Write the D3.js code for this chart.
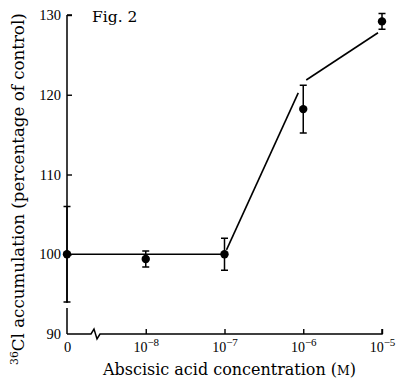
<!DOCTYPE html>
<html><head><meta charset="utf-8">
<script src="https://cdn.jsdelivr.net/npm/d3@7"></script>
<style>html,body{margin:0;padding:0;background:#fff;}svg{display:block;}</style>
</head><body>
<script>
const categories = ["0", "1e-8", "1e-7", "1e-6", "1e-5"];
const tickExponents = [null, "−8", "−7", "−6", "−5"];
const means = [100, 99.4, 100, 118.2, 129.2];
const errors = [6, 1, 2, 3, 1];
const fitCategories = ["0", "1e-7", "1e-6", "1e-5"];
const fitValues = [100, 100, 121.6, 128.1];
const yTicks = [90, 100, 110, 120, 130];
const figLabel = "Fig. 2";
const xTitle = "Abscisic acid concentration";
const yTitle = "Cl accumulation (percentage of control)";

const W = 400, H = 382;
const svg = d3.select("body").append("svg").attr("width", W).attr("height", H);
const tickFont = '"Liberation Serif", serif';
const titleFont = '"DejaVu Serif", serif';

const x = d3.scalePoint().domain(categories).range([67, 382]);
const y = d3.scaleLinear().domain([90, 130]).range([334, 15]);

// y axis
const yAxis = svg.append("g").attr("transform", "translate(67,0)")
  .call(d3.axisLeft(y).tickValues(yTicks).tickSize(-5).tickPadding(6).tickFormat(d3.format("d")));
yAxis.select(".domain").remove();
yAxis.selectAll(".tick line").attr("stroke", "#000").attr("stroke-width", 1.4);
yAxis.selectAll(".tick").filter(d => d === 90).select("line").remove();
yAxis.selectAll("text").style("font-family", tickFont).style("font-size", "14.5px").attr("fill", "#000");

// x axis
const xAxis = svg.append("g").attr("transform", "translate(0,334)")
  .call(d3.axisBottom(x).tickSize(-5).tickPadding(10).tickFormat(() => ""));
xAxis.select(".domain").remove();
xAxis.selectAll(".tick line").attr("stroke", "#000").attr("stroke-width", 1.4);
xAxis.selectAll(".tick").filter(d => d === "0").select("line").remove();
xAxis.selectAll(".tick text").each(function(d, i) {
  const t = d3.select(this).style("font-family", tickFont).attr("fill", "#000").attr("dy", null).attr("y", 18);
  if (tickExponents[i] === null) {
    t.style("font-size", "14.5px").text(d);
  } else {
    t.style("font-size", "14px").text(null);
    t.append("tspan").text("10");
    t.append("tspan").style("font-size", "11px").attr("dy", -6).text(tickExponents[i]);
  }
});

// axis lines with break
const x0 = x("0"), xEnd = x("1e-5"), ay = y(90);
svg.append("path")
  .attr("d", `M${x0},${ay} H${x0 + 24} L${x0 + 27},${ay - 5} L${x0 + 30},${ay + 5} L${x0 + 33},${ay} H${xEnd} V${ay - 5}`)
  .attr("fill", "none").attr("stroke", "#000").attr("stroke-width", 1.5);
svg.append("path")
  .attr("d", `M${x0},${y(130)} H${x0 + 5} M${x0},${y(130)} V${y(94) + 1} M${x0},${y(94) + 6} V${ay}`)
  .attr("fill", "none").attr("stroke", "#000").attr("stroke-width", 1.5);

// fitted line, drawn with small gaps near markers
const shrink = [[0, 2], [2, 5], [3, 4]];
for (let i = 0; i < fitCategories.length - 1; i++) {
  const xa = x(fitCategories[i]), ya = y(fitValues[i]);
  const xb = x(fitCategories[i + 1]), yb = y(fitValues[i + 1]);
  const s = (yb - ya) / (xb - xa);
  const x1 = xa + shrink[i][0], x2 = xb - shrink[i][1];
  svg.append("line")
    .attr("x1", x1).attr("y1", ya + s * (x1 - xa))
    .attr("x2", x2).attr("y2", ya + s * (x2 - xa))
    .attr("stroke", "#000").attr("stroke-width", 1.6);
}

// error bars
const eb = svg.append("g").attr("stroke", "#000").attr("stroke-width", 1.5).attr("fill", "none");
categories.forEach((c, i) => {
  const cx = x(c), top = y(means[i] + errors[i]), bot = y(means[i] - errors[i]);
  eb.append("path").attr("d", `M${cx},${top} V${bot} M${cx - 3.5},${top} H${cx + 3.5} M${cx - 3.5},${bot} H${cx + 3.5}`);
});

// points
svg.append("g").selectAll("circle").data(categories).join("circle")
  .attr("cx", d => x(d)).attr("cy", (d, i) => y(means[i])).attr("r", 4.2).attr("fill", "#000");

// titles
svg.append("text").attr("x", 92).attr("y", 22).style("font-family", titleFont).style("font-size", "15.5px")
  .attr("fill", "#000").text(figLabel);

function fitWidth(textSel, target) {
  const len = textSel.node().getComputedTextLength();
  const fs = parseFloat(textSel.style("font-size"));
  textSel.style("font-size", (fs * target / len).toFixed(2) + "px");
}

const xt = svg.append("text").attr("x", 103).attr("y", 375)
  .style("font-family", titleFont).style("font-size", "17px").attr("fill", "#000");
xt.append("tspan").text(xTitle + "  (");
xt.append("tspan").style("font-size", "0.78em").text("M");
xt.append("tspan").text(")");
fitWidth(xt, 253);

const yt = svg.append("text").attr("transform", "translate(24,365) rotate(-90)")
  .style("font-family", titleFont).style("font-size", "17px").attr("fill", "#000");
yt.append("tspan").style("font-size", "0.65em").attr("dy", -6).text("36");
yt.append("tspan").attr("dy", 6).text(yTitle);
fitWidth(yt, 352);
</script>
</body></html>
